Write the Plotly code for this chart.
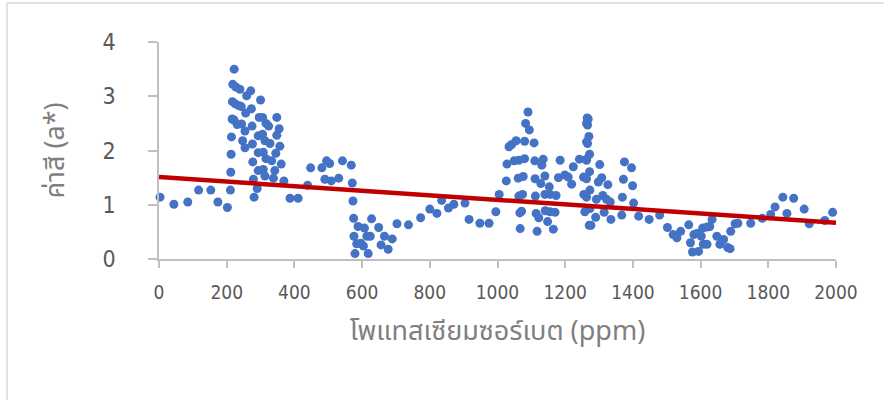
import numpy as np
import plotly.graph_objects as go

# Potassium sorbate concentration (ppm) and measured colour value a*
sorbate_ppm = [
    3, 44, 85, 117, 153, 174, 202, 211, 212, 213, 214, 216, 217, 218, 222, 227, 239,
    225, 235, 243, 259, 271, 256, 273, 300, 222, 231, 244, 254, 275, 296, 306, 316,
    324, 348, 355, 348, 293, 306, 313, 328, 247, 254, 276, 357, 345, 293, 308, 316,
    333, 277, 361, 342, 293, 308, 313, 338, 279, 369, 290, 281, 387, 411,
    439, 448, 481, 495, 504, 542, 568, 490, 509, 531, 571, 573, 575, 588, 607, 628,
    576, 614, 624, 584, 596, 604, 579, 618, 649, 666, 656, 677, 689, 703, 737, 773,
    800, 821, 835,
    855, 871, 904, 916, 948, 975, 995, 1005, 1026, 1028, 1034, 1042, 1055, 1049, 1063,
    1080, 1080, 1083, 1090, 1094, 1108, 1061, 1076, 1063, 1074, 1066, 1071, 1067, 1110,
    1135, 1131, 1111, 1128, 1140, 1153, 1112, 1140, 1155, 1173, 1114, 1122, 1141, 1155,
    1170, 1148, 1117, 1165, 1185, 1180, 1199, 1209, 1219, 1224, 1242, 1254, 1255, 1258,
    1271, 1263, 1265, 1263, 1263,
    1268, 1266, 1270, 1266, 1272, 1272, 1263, 1273, 1263, 1273, 1263, 1302, 1308, 1298,
    1326, 1311, 1292, 1322, 1333, 1315, 1290, 1335, 1276, 1375, 1396, 1372, 1399, 1369,
    1402, 1367, 1417, 1448, 1479, 1502, 1519, 1530, 1541, 1565, 1580, 1570, 1576, 1594,
    1589, 1602, 1606, 1619, 1627, 1634, 1608, 1619, 1648, 1657, 1668, 1680, 1689, 1702,
    1687, 1710, 1748, 1782, 1807, 1820, 1843, 1875, 1855, 1906, 1921, 1967, 1990,
]
color_a = [
    1.14, 1.01, 1.05, 1.27, 1.27, 1.05, 0.95, 1.27, 1.60, 1.93, 2.25, 2.58, 2.90, 3.22, 3.50, 3.17, 3.13,
    2.86, 2.83, 2.81, 3.01, 3.10, 2.69, 2.77, 2.93, 2.56, 2.48, 2.49, 2.36, 2.45, 2.61, 2.61, 2.50,
    2.45, 2.61, 2.40, 2.28, 2.27, 2.30, 2.18, 2.13, 2.18, 2.05, 2.12, 2.08, 1.95, 1.96, 1.97, 1.85,
    1.81, 1.79, 1.75, 1.63, 1.63, 1.65, 1.53, 1.49, 1.47, 1.44, 1.30, 1.14, 1.12, 1.12,
    1.36, 1.68, 1.68, 1.81, 1.76, 1.81, 1.73, 1.47, 1.44, 1.49, 1.40, 1.07, 0.75, 0.60, 0.57, 0.74,
    0.42, 0.42, 0.42, 0.28, 0.29, 0.24, 0.10, 0.10, 0.58, 0.42, 0.26, 0.18, 0.37, 0.65, 0.63, 0.76,
    0.92, 0.84, 1.08,
    0.94, 1.01, 1.03, 0.73, 0.66, 0.66, 0.87, 1.19, 1.44, 1.75, 2.07, 2.11, 2.18, 1.81, 1.82,
    1.85, 2.17, 2.50, 2.71, 2.38, 2.14, 1.49, 1.52, 1.16, 1.19, 0.85, 0.88, 0.56, 1.81,
    1.84, 1.73, 1.48, 1.39, 1.53, 1.33, 1.16, 1.19, 1.19, 1.17, 0.84, 0.76, 0.89, 0.87,
    0.86, 0.69, 0.51, 0.55, 1.82, 1.50, 1.55, 1.51, 1.38, 1.70, 1.84, 1.51, 1.19, 0.87,
    0.62, 2.50, 2.60, 2.16, 1.84,
    2.58, 2.47, 2.26, 2.13, 1.93, 1.61, 1.82, 1.27, 1.48, 0.93, 1.14, 1.74, 1.50, 1.42,
    1.37, 1.17, 1.10, 1.10, 1.05, 0.86, 0.77, 0.73, 0.62, 1.79, 1.68, 1.47, 1.35, 1.14,
    1.03, 0.81, 0.79, 0.73, 0.81, 0.58, 0.45, 0.39, 0.51, 0.63, 0.45, 0.30, 0.13, 0.14,
    0.47, 0.42, 0.57, 0.59, 0.60, 0.73, 0.27, 0.27, 0.42, 0.27, 0.36, 0.21, 0.51, 0.65,
    0.19, 0.66, 0.66, 0.75, 0.82, 0.96, 1.14, 1.12, 0.84, 0.92, 0.65, 0.71, 0.86,
]

# Linear trendline (value at 0 ppm and at 2000 ppm)
trend_ppm = [0, 2000]
trend_a = [1.51, 0.67]

x_ticks = [0, 200, 400, 600, 800, 1000, 1200, 1400, 1600, 1800, 2000]
y_ticks = [0, 1, 2, 3, 4]

x_title = "โพแทสเซียมซอร์เบต (ppm)"
y_title = "ค่าสี (a*)"

W, H = 884, 400
ML, MR, MT, MB = 159, 48, 42, 141

gray_text = "#595959"
axis_gray = "#BFBFBF"
digits = "DejaVu Sans Condensed, Liberation Sans Narrow, Noto Sans, sans-serif"
x_tick_font = dict(family=digits, size=19, color=gray_text)
y_tick_font = dict(family=digits, size=23, color=gray_text)
title_font = dict(family="Noto Sans Thai, Noto Sans, DejaVu Sans, sans-serif",
                  size=27, color="#7F7F7F")

fig = go.Figure()
fig.add_trace(go.Scatter(
    x=sorbate_ppm, y=color_a, mode="markers",
    marker=dict(size=9, color="#4472C4"),
    cliponaxis=False, showlegend=False,
))
fig.add_trace(go.Scatter(
    x=trend_ppm, y=trend_a, mode="lines",
    line=dict(color="#C00000", width=4.5),
    cliponaxis=False, showlegend=False,
))

fig.update_layout(
    width=W, height=H,
    margin=dict(l=ML, r=MR, t=MT, b=MB, pad=0),
    paper_bgcolor="white", plot_bgcolor="white",
    xaxis=dict(
        range=[0, 2000], tickvals=x_ticks, showgrid=False, zeroline=False,
        showline=True, linecolor=axis_gray, linewidth=1.5,
        ticks="outside", ticklen=7, tickcolor=axis_gray, tickwidth=1.5,
        tickfont=x_tick_font, ticklabelstandoff=8,
        title=dict(text=x_title, font=title_font, standoff=20),
    ),
    yaxis=dict(
        range=[0, 4], tickvals=y_ticks, showgrid=False, zeroline=False,
        showline=True, linecolor=axis_gray, linewidth=1.5,
        ticks="outside", ticklen=9, tickcolor=axis_gray, tickwidth=1.5,
        tickfont=y_tick_font, ticklabelstandoff=28,
        title=dict(text=y_title, font=title_font, standoff=30),
    ),
)

# Light chart-area border (left and top edges fall inside the page)
pw, ph = W - ML - MR, H - MT - MB
def px_to_paper_x(px):
    return (px - ML) / pw
def px_to_paper_y(py):
    return (H - MB - py) / ph

fig.add_shape(
    type="rect", xref="paper", yref="paper",
    x0=px_to_paper_x(7), x1=px_to_paper_x(W + 30),
    y0=px_to_paper_y(H + 30), y1=px_to_paper_y(3),
    line=dict(color="#D9D9D9", width=1.5), fillcolor="rgba(0,0,0,0)", layer="below",
)

fig.write_html("out.html")
